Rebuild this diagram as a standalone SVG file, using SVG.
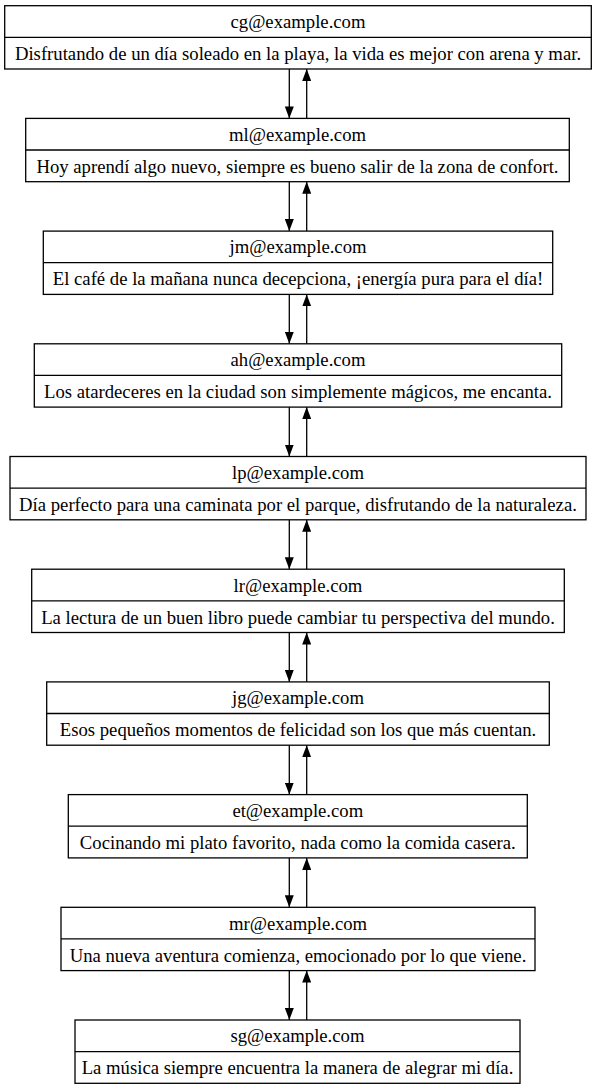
<svg xmlns="http://www.w3.org/2000/svg" width="596" height="1089" viewBox="0 0 596 1089">
<style>
.box{fill:#fff;stroke:#000;stroke-width:1.3}
.div{stroke:#000;stroke-width:1.3}
text{font-family:"Liberation Serif","Times New Roman",serif;font-size:18.7px;text-anchor:middle;fill:#000}
.edge{stroke:#000;stroke-width:1.3;fill:none}
</style>
<defs>
<marker id="ah" viewBox="0 0 12 9" refX="12" refY="4.5" markerWidth="12" markerHeight="9" markerUnits="userSpaceOnUse" orient="auto">
<path d="M0,0 L12,4.5 L0,9 Z" fill="#000"/>
</marker>
</defs>
<rect width="596" height="1089" fill="#fff"/>
<g id="edges">
<path class="edge" d="M289.3,69 L289.3,118.4" marker-end="url(#ah)"/>
<path class="edge" d="M306.7,118.4 L306.7,69" marker-end="url(#ah)"/>
<path class="edge" d="M289.3,181.7 L289.3,231.1" marker-end="url(#ah)"/>
<path class="edge" d="M306.7,231.1 L306.7,181.7" marker-end="url(#ah)"/>
<path class="edge" d="M289.3,294.4 L289.3,343.8" marker-end="url(#ah)"/>
<path class="edge" d="M306.7,343.8 L306.7,294.4" marker-end="url(#ah)"/>
<path class="edge" d="M289.3,407.1 L289.3,456.5" marker-end="url(#ah)"/>
<path class="edge" d="M306.7,456.5 L306.7,407.1" marker-end="url(#ah)"/>
<path class="edge" d="M289.3,519.8 L289.3,569.2" marker-end="url(#ah)"/>
<path class="edge" d="M306.7,569.2 L306.7,519.8" marker-end="url(#ah)"/>
<path class="edge" d="M289.3,632.5 L289.3,681.9" marker-end="url(#ah)"/>
<path class="edge" d="M306.7,681.9 L306.7,632.5" marker-end="url(#ah)"/>
<path class="edge" d="M289.3,745.2 L289.3,794.6" marker-end="url(#ah)"/>
<path class="edge" d="M306.7,794.6 L306.7,745.2" marker-end="url(#ah)"/>
<path class="edge" d="M289.3,857.9 L289.3,907.3" marker-end="url(#ah)"/>
<path class="edge" d="M306.7,907.3 L306.7,857.9" marker-end="url(#ah)"/>
<path class="edge" d="M289.3,970.6 L289.3,1020" marker-end="url(#ah)"/>
<path class="edge" d="M306.7,1020 L306.7,970.6" marker-end="url(#ah)"/>
</g>
<g id="n1"><rect class="box" x="4.7" y="5.7" width="586.6" height="63.3"/><line class="div" x1="4.7" y1="37.3" x2="591.3" y2="37.3"/><text x="298" y="28">cg@example.com</text><text x="298" y="60">Disfrutando de un día soleado en la playa, la vida es mejor con arena y mar.</text></g>
<g id="n2"><rect class="box" x="25.7" y="118.4" width="543.6" height="63.3"/><line class="div" x1="25.7" y1="150" x2="569.3" y2="150"/><text x="297.5" y="140.7">ml@example.com</text><text x="297.5" y="172.7">Hoy aprendí algo nuevo, siempre es bueno salir de la zona de confort.</text></g>
<g id="n3"><rect class="box" x="43.3" y="231.1" width="509.4" height="63.3"/><line class="div" x1="43.3" y1="262.7" x2="552.7" y2="262.7"/><text x="298" y="253.4">jm@example.com</text><text x="298" y="285.4">El café de la mañana nunca decepciona, ¡energía pura para el día!</text></g>
<g id="n4"><rect class="box" x="34.3" y="343.8" width="527.4" height="63.3"/><line class="div" x1="34.3" y1="375.4" x2="561.7" y2="375.4"/><text x="298" y="366.1">ah@example.com</text><text x="298" y="398.1">Los atardeceres en la ciudad son simplemente mágicos, me encanta.</text></g>
<g id="n5"><rect class="box" x="10" y="456.5" width="576" height="63.3"/><line class="div" x1="10" y1="488.1" x2="586" y2="488.1"/><text x="298" y="478.8">lp@example.com</text><text x="298" y="510.8">Día perfecto para una caminata por el parque, disfrutando de la naturaleza.</text></g>
<g id="n6"><rect class="box" x="31.7" y="569.2" width="532.6" height="63.3"/><line class="div" x1="31.7" y1="600.8" x2="564.3" y2="600.8"/><text x="298" y="591.5">lr@example.com</text><text x="298" y="623.5">La lectura de un buen libro puede cambiar tu perspectiva del mundo.</text></g>
<g id="n7"><rect class="box" x="46.7" y="681.9" width="502.6" height="63.3"/><line class="div" x1="46.7" y1="713.5" x2="549.3" y2="713.5"/><text x="298" y="704.2">jg@example.com</text><text x="298" y="736.2">Esos pequeños momentos de felicidad son los que más cuentan.</text></g>
<g id="n8"><rect class="box" x="68.3" y="794.6" width="459" height="63.3"/><line class="div" x1="68.3" y1="826.2" x2="527.3" y2="826.2"/><text x="297.8" y="816.9">et@example.com</text><text x="297.8" y="848.9">Cocinando mi plato favorito, nada como la comida casera.</text></g>
<g id="n9"><rect class="box" x="61" y="907.3" width="474" height="63.3"/><line class="div" x1="61" y1="938.9" x2="535" y2="938.9"/><text x="298" y="929.6">mr@example.com</text><text x="298" y="961.6">Una nueva aventura comienza, emocionado por lo que viene.</text></g>
<g id="n10"><rect class="box" x="75" y="1020" width="445" height="63.3"/><line class="div" x1="75" y1="1051.6" x2="520" y2="1051.6"/><text x="297.5" y="1042.3">sg@example.com</text><text x="297.5" y="1074.3">La música siempre encuentra la manera de alegrar mi día.</text></g>
</svg>
